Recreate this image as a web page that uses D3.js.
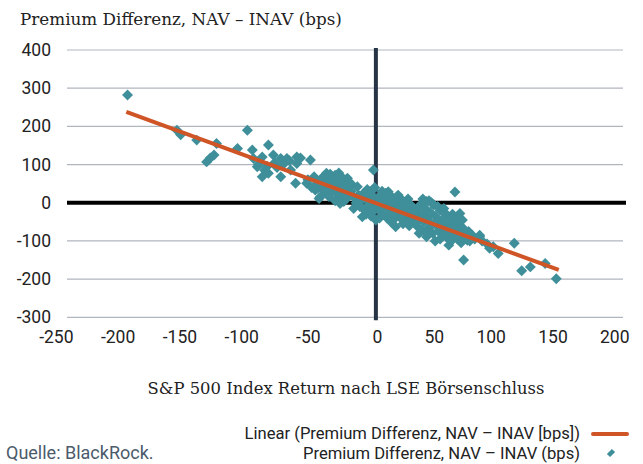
<!DOCTYPE html>
<html>
<head>
<meta charset="utf-8">
<script src="https://cdn.jsdelivr.net/npm/d3@7"></script>
<style>
    body { margin: 0; background: #fff; }
    .serif { font-family: "DejaVu Serif", serif; fill: #222; }
    .sans { font-family: Roboto, "Liberation Sans", sans-serif; fill: #222; }
</style>
</head>
<body>
<svg id="chart" width="643" height="464"></svg>
<script>
// axis ticks
var xTicks = [-250, -200, -150, -100, -50, 0, 50, 100, 150, 200];
var yTicks = [-300, -200, -100, 0, 100, 200, 300, 400];

// S&P 500 return (x) vs premium difference NAV - INAV (y), in bps
var leftTail = [
    [-201, 282], [-161, 190], [-158, 178], [-145, 164], [-131, 125], [-134, 117],
    [-137, 107], [-129, 155], [-104, 190], [-112, 142], [-100, 138], [-99, 116],
    [-92, 120], [-87, 151], [-83, 125], [-77, 116], [-72, 116], [-64, 120],
    [-64, 103], [-96, 94], [-92, 68], [-87, 77], [-77, 68], [-69, 86], [-65, 51],
    [-95, 100], [-88, 95], [-80, 92], [-75, 100], [-70, 110], [-82, 105], [-90, 85]
];
var midLeft = [
    [-61, 117], [-53, 112], [-56, 51], [-50, 68], [-49, 33], [-46, 11], [-45, 15],
    [-40, 77], [-40, 59], [-38, 16], [-33, 72], [-34, 33], [-37, 75], [-30, 78],
    [-27, 65], [-25, 60], [-38, 63], [-35, 55], [-30, 50], [-28, 45], [-42, 70],
    [-23, 64], [-38, 20], [-26, 3], [-29, -2], [-55, 60], [-52, 40], [-48, 50],
    [-44, 45], [-42, 30], [-36, 40], [-32, 30], [-30, 20], [-28, 35], [-25, 25],
    [-22, 40], [-20, 30], [-18, 15], [-24, 10], [-20, 50], [-33, 5], [-40, 40],
    [-46, 55], [-36, 65], [-31, 60], [-44, 62], [-34, 48], [-26, 42], [-21, 22],
    [-39, 28], [-47, 38], [-29, 12]
];
var nearZero = [
    [-15, 42], [-18, -15], [-11, -37], [-2, 86], [-3, 33], [0, -45], [-14, 20],
    [-12, 5], [-10, 25], [-8, 10], [-6, -5], [-5, 20], [-4, 0], [-2, 15], [-1, -10],
    [-9, -20], [-7, 35], [-16, 0], [-13, -10], [-3, -25], [-1, 40], [-4, -35],
    [-8, -30], [-2, -15]
];
var midRight = [
    [10, 29], [16, -63], [20, 11], [2, 5], [3, -20], [4, 20], [5, -10], [6, -30],
    [7, 10], [8, -5], [9, -40], [10, -15], [11, 0], [12, -25], [13, 15], [14, -10],
    [15, -35], [17, -5], [18, -20], [19, 5], [20, -40], [21, -10], [22, -30],
    [23, -15], [24, 0], [25, -45], [26, -20], [27, -35], [28, -5], [29, -25],
    [30, -50], [12, -50], [22, -55], [5, 30], [8, 25], [18, 20], [26, 10], [3, -40],
    [14, -45], [27, -60], [6, 0], [16, 5],
    [41, -89], [41, 3], [47, -6], [59, -111], [31, -15], [32, -35], [33, -60],
    [34, -25], [35, -45], [36, -5], [37, -70], [38, -30], [39, -50], [40, -15],
    [42, -40], [43, -65], [44, -25], [45, -55], [46, -80], [48, -35], [49, -60],
    [50, -45], [51, -75], [52, -20], [53, -50], [54, -85], [55, -40], [56, -65],
    [57, -30], [58, -55], [59, -80], [60, -45], [45, 0], [50, -10], [38, 10],
    [43, 5], [52, -95], [57, -90], [48, -100], [35, -80], [55, -15], [40, -75]
];
var rightTail = [
    [64, 28], [68, -28], [71, -150], [74, -98], [74, -85], [62, -60], [63, -85],
    [64, -45], [65, -70], [66, -95], [67, -55], [68, -80], [69, -105], [70, -65],
    [72, -90], [75, -75], [76, -100], [78, -85], [61, -100], [66, -35], [70, -45],
    [62, -30], [84, -85], [84, -89], [92, -119], [99, -133], [112, -106],
    [118, -178], [125, -168], [137, -159], [146, -199], [80, -95], [86, -100],
    [95, -115], [90, -108]
];

// linear trendline end points
var trendX = [-202, 148];
var trendY = [238, -176];

var points = leftTail.concat(midLeft, nearZero, midRight, rightTail);

var svg = d3.select('#chart');

var x = d3.scaleLinear().domain([-250, 200]).range([67, 623]);
var y = d3.scaleLinear().domain([-300, 400]).range([317.3, 50]);

var teal = '#3f8f9a',
    orange = '#cf5527';

// gridlines
svg.append('g')
    .selectAll('line')
    .data(yTicks.filter(function(d) { return d !== 0; }))
    .enter().append('line')
    .attr('x1', x(-250)).attr('x2', x(200))
    .attr('y1', function(d) { return y(d); })
    .attr('y2', function(d) { return y(d); })
    .attr('stroke', '#b0b6be')
    .attr('stroke-width', 1.2);

// y axis labels (plain hyphen for negatives, as in the original)
var yAxis = d3.axisLeft(y).tickValues(yTicks).tickFormat(String).tickSize(0).tickPadding(0);
var gy = svg.append('g').attr('transform', 'translate(51,0)').call(yAxis);
gy.select('.domain').remove();
gy.selectAll('text').attr('class', 'sans').attr('font-size', 17.5).attr('fill', '#222');

// x axis labels
var xAxis = d3.axisBottom(x).tickValues(xTicks).tickFormat(String).tickSize(0).tickPadding(0);
var gx = svg.append('g').attr('transform', 'translate(0,331)').call(xAxis);
gx.select('.domain').remove();
gx.selectAll('text')
    .attr('class', 'sans')
    .attr('font-size', 17.5)
    .attr('fill', '#222')
    .attr('text-anchor', 'end')
    .attr('dx', 6);

// zero line and vertical axis at x = 0
svg.append('line')
    .attr('x1', x(-250)).attr('x2', x(200) + 3)
    .attr('y1', y(0)).attr('y2', y(0))
    .attr('stroke', '#000').attr('stroke-width', 4);
svg.append('line')
    .attr('x1', x(0)).attr('x2', x(0))
    .attr('y1', y(400) - 2).attr('y2', y(-300) + 3)
    .attr('stroke', '#263445').attr('stroke-width', 4);

// scatter diamonds
var diamond = d3.symbol().type(d3.symbolSquare).size(60);
svg.append('g')
    .selectAll('path')
    .data(points)
    .enter().append('path')
    .attr('d', diamond)
    .attr('transform', function(d) {
        return 'translate(' + x(d[0]) + ',' + y(d[1]) + ') rotate(45)';
    })
    .attr('fill', teal);

// trendline
svg.append('line')
    .attr('x1', x(trendX[0])).attr('y1', y(trendY[0]))
    .attr('x2', x(trendX[1])).attr('y2', y(trendY[1]))
    .attr('stroke', orange)
    .attr('stroke-width', 4);

// titles
svg.append('text')
    .attr('class', 'serif')
    .attr('x', 20).attr('y', 25)
    .attr('font-size', 16.8)
    .text('Premium Differenz, NAV – INAV (bps)');

svg.append('text')
    .attr('class', 'serif')
    .attr('x', 346).attr('y', 394)
    .attr('text-anchor', 'middle')
    .attr('font-size', 16.4)
    .text('S&P 500 Index Return nach LSE Börsenschluss');

// legend
var legend = svg.append('g');
legend.append('text')
    .attr('class', 'sans')
    .attr('x', 580).attr('y', 439)
    .attr('text-anchor', 'end')
    .attr('font-size', 16.6)
    .text('Linear (Premium Differenz, NAV – INAV [bps])');
legend.append('line')
    .attr('x1', 593).attr('x2', 627)
    .attr('y1', 434).attr('y2', 434)
    .attr('stroke', orange).attr('stroke-width', 4)
    .attr('stroke-linecap', 'round');
legend.append('text')
    .attr('class', 'sans')
    .attr('x', 580).attr('y', 459)
    .attr('text-anchor', 'end')
    .attr('font-size', 16.6)
    .text('Premium Differenz, NAV – INAV (bps)');
legend.append('path')
    .attr('d', d3.symbol().type(d3.symbolSquare).size(32))
    .attr('transform', 'translate(611,453) rotate(45) scale(0.8,1.25)')
    .attr('fill', teal);

svg.append('text')
    .attr('class', 'sans')
    .attr('x', 6).attr('y', 459)
    .attr('font-size', 18)
    .style('fill', '#4b5b6b')
    .text('Quelle: BlackRock.');
</script>
</body>
</html>
